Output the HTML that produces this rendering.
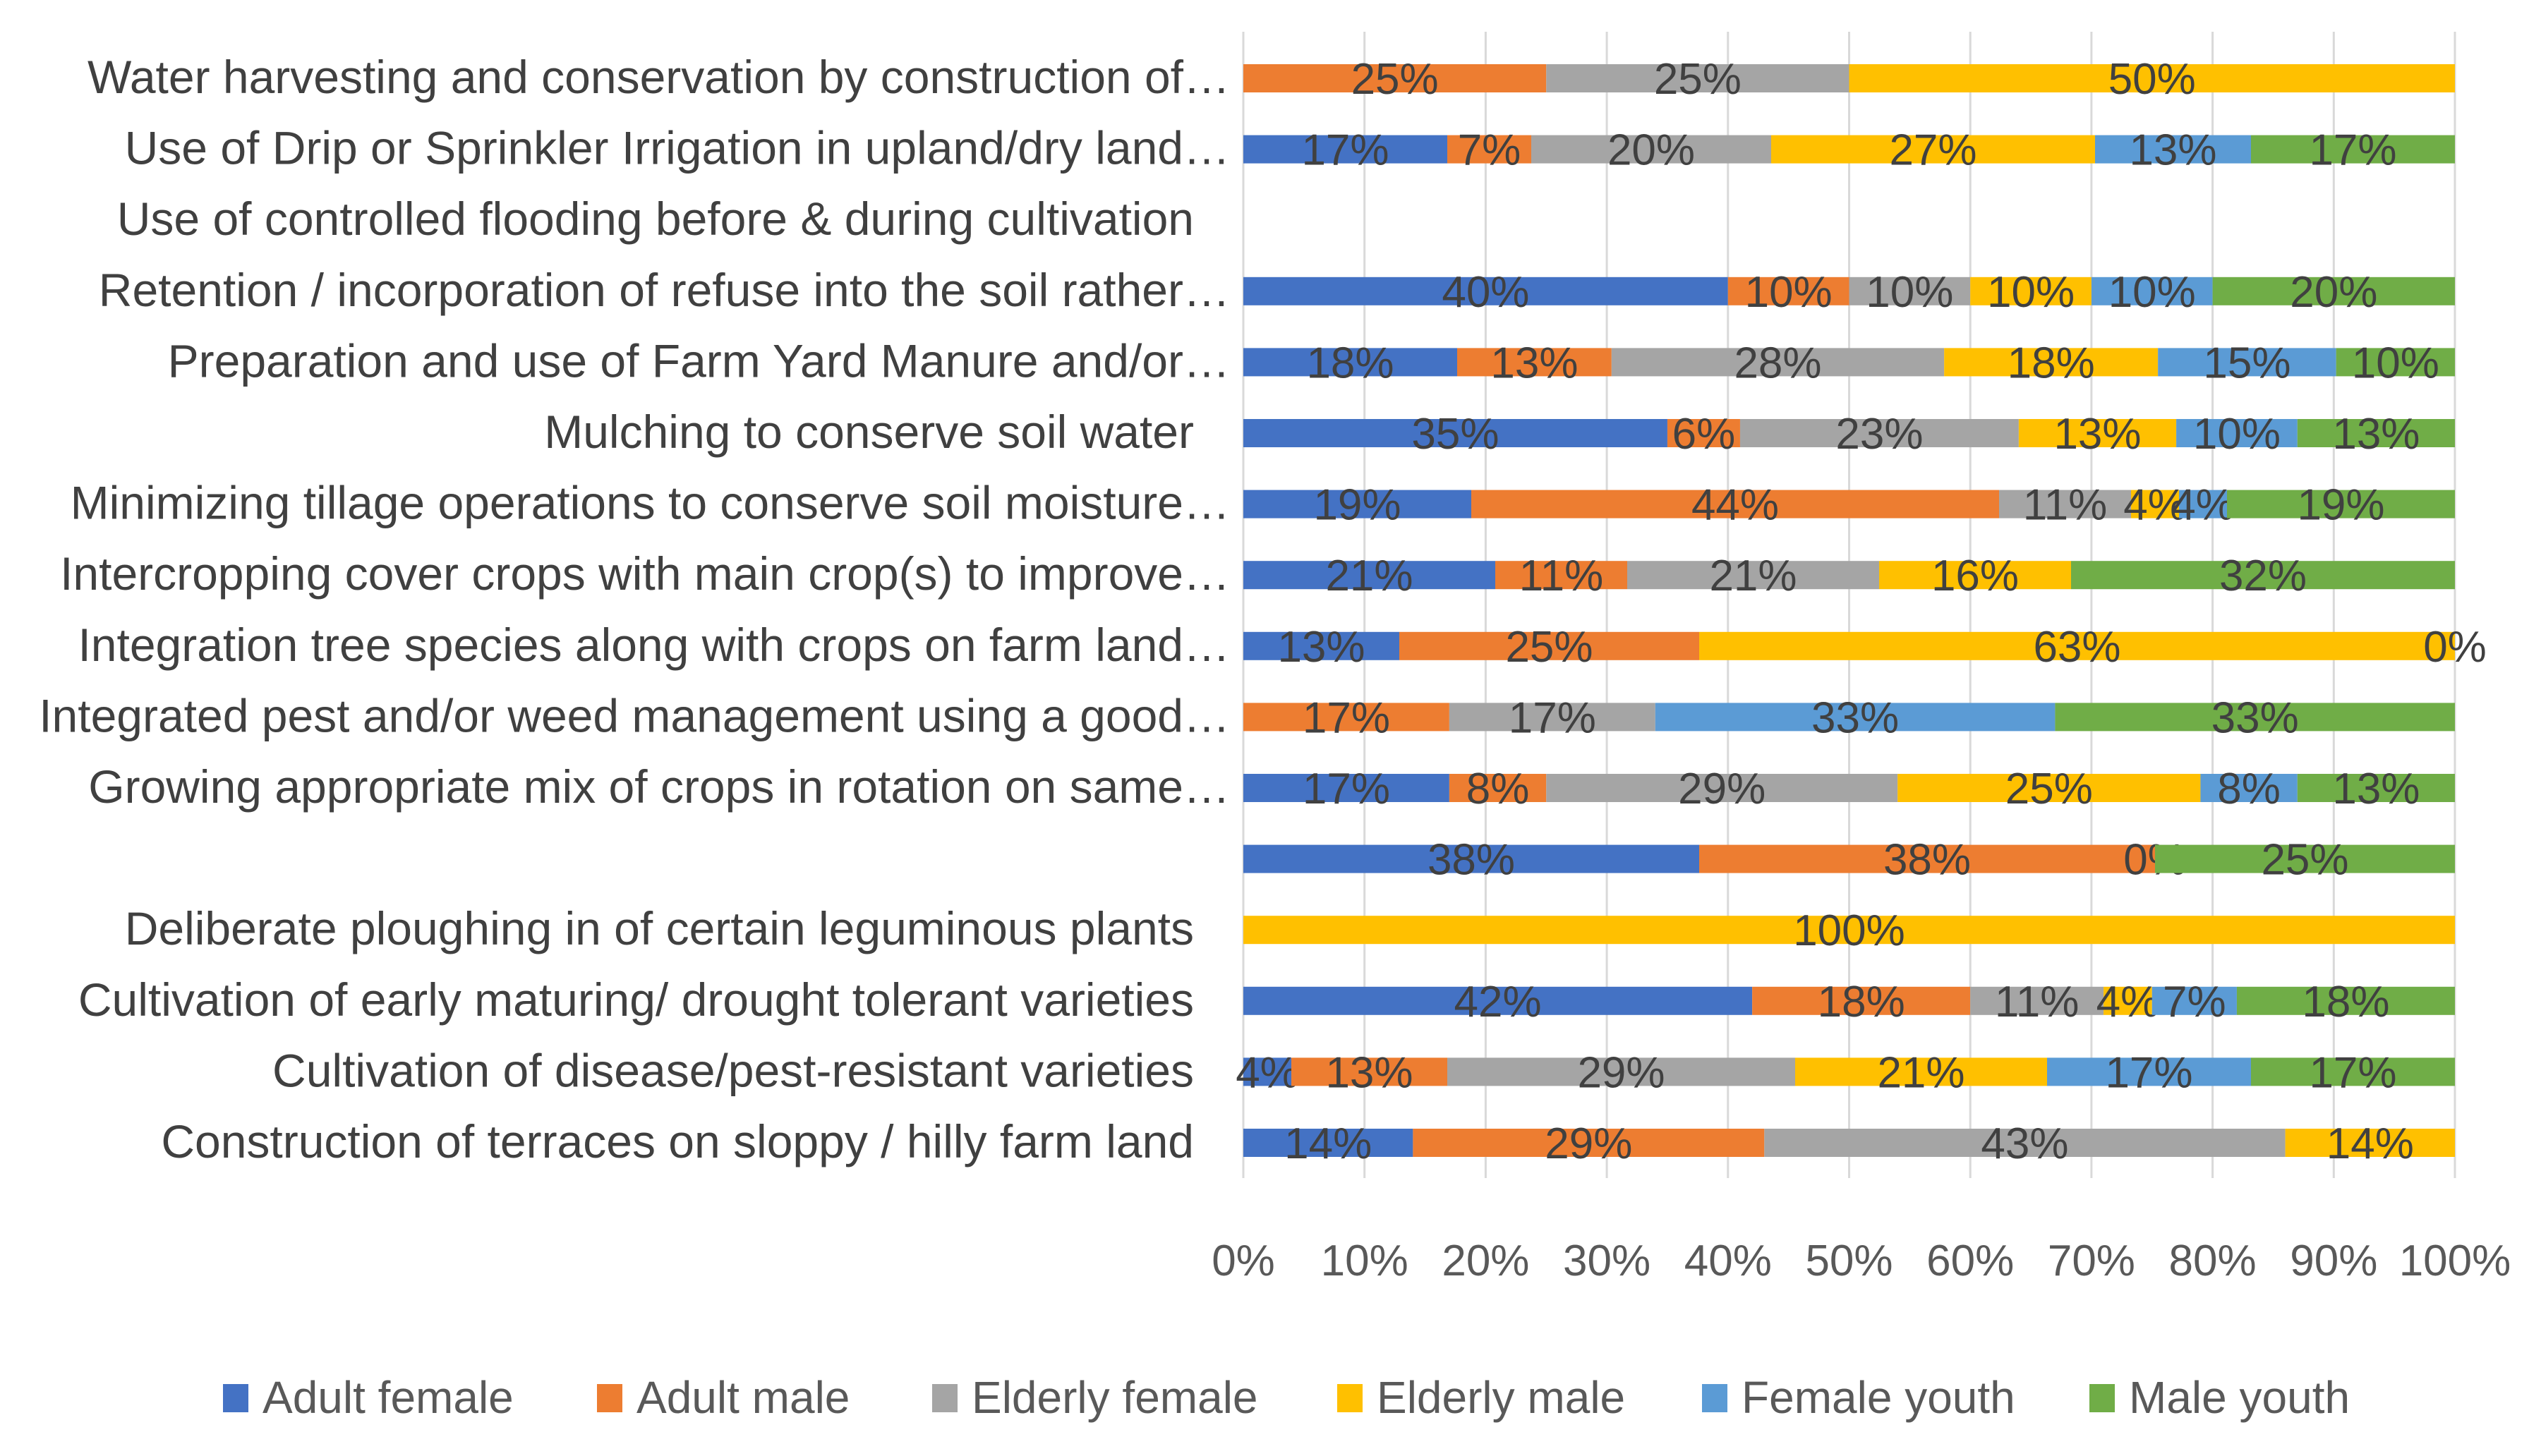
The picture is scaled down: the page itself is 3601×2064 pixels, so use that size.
<!DOCTYPE html>
<html><head><meta charset="utf-8">
<style>
html,body{margin:0;padding:0;background:#fff;}
svg{display:block;font-family:"Liberation Sans",sans-serif;}
</style></head>
<body>
<svg id="chart" width="3601" height="2064" viewBox="0 0 3601 2064" xmlns="http://www.w3.org/2000/svg">
<rect width="3601" height="2064" fill="#fff"/>
<g id="grid"></g>
<g id="bars"></g>
<g id="cats"></g>
<g id="ticks"></g>
<g id="legend"></g>
</svg>
<script>
const categories = [
"Water harvesting and conservation by construction of…",
"Use of Drip or Sprinkler Irrigation in upland/dry land…",
"Use of controlled flooding before & during cultivation",
"Retention / incorporation of refuse into the soil rather…",
"Preparation and use of Farm Yard Manure and/or…",
"Mulching to conserve soil water",
"Minimizing tillage operations to conserve soil moisture…",
"Intercropping cover crops with main crop(s) to improve…",
"Integration tree species along with crops on farm land…",
"Integrated pest and/or weed management using a good…",
"Growing appropriate mix of crops in rotation on same…",
"",
"Deliberate ploughing in of certain leguminous plants",
"Cultivation of early maturing/ drought tolerant varieties",
"Cultivation of disease/pest-resistant varieties",
"Construction of terraces on sloppy / hilly farm land"
];
const seriesNames = ["Adult female","Adult male","Elderly female","Elderly male","Female youth","Male youth"];
const seriesColors = ["#4472C4","#ED7D31","#A5A5A5","#FFC000","#5B9BD5","#70AD47"];
const adultFemale   = [null,17,null,40,18,35,19,21,13,null,17,38,null,42,4,14];
const adultMale     = [25,7,null,10,13,6,44,11,25,17,8,38,null,18,13,29];
const elderlyFemale = [25,20,null,10,28,23,11,21,null,17,29,0,null,11,29,43];
const elderlyMale   = [50,27,null,10,18,13,4,16,63,null,25,null,100,4,21,14];
const femaleYouth   = [null,13,null,10,15,10,4,null,null,33,8,null,null,7,17,null];
const maleYouth     = [null,17,null,20,10,13,19,32,0,33,13,25,null,18,17,null];
const tickLabels = ["0%","10%","20%","30%","40%","50%","60%","70%","80%","90%","100%"];

const NS="http://www.w3.org/2000/svg";
const X0=1762, X1=3479, TOP=45, BOT=1670, ROW0=111, ROWSTEP=100.6, BARH=40;
const xs = v => X0 + (X1-X0)*v/100;
const ys = i => ROW0 + i*ROWSTEP;
function mk(tag, attrs, parent){const e=document.createElementNS(NS,tag);for(const k in attrs)e.setAttribute(k,attrs[k]);parent.appendChild(e);return e;}

const grid=document.getElementById('grid');
tickLabels.forEach((t,i)=>{
  const x=xs(i*10);
  const l=mk('line',{x1:x,x2:x,y1:TOP,y2:BOT,stroke:'#d9d9d9','stroke-width':3},grid);
  
  
  const tx=mk('text',{x:x,y:1808,'font-size':62,fill:'#595959','text-anchor':'middle'},document.getElementById('ticks'));
  tx.textContent=t;
  
  
});

const series=[adultFemale,adultMale,elderlyFemale,elderlyMale,femaleYouth,maleYouth];
const bars=document.getElementById('bars');
categories.forEach((c,i)=>{
  const vals=series.map(s=>s[i]);
  const sum=vals.reduce((a,v)=>a+(v||0),0);
  let acc=0;
  const yc=ys(i);
  vals.forEach((v,k)=>{
    if(v===null) return;
    const a=sum?acc/sum*100:0, b=sum?(acc+v)/sum*100:0;
    acc+=v;
    if(v>0){
      const r=mk('rect',{x:xs(a),y:yc-BARH/2,width:xs(b)-xs(a),height:BARH,fill:seriesColors[k]},bars);
      
      
    }
    const cx=(xs(a)+xs(b))/2;
    const t=mk('text',{x:cx,y:yc+22,'font-size':62,fill:'#404040','text-anchor':'middle'},bars);
    t.textContent=v+'%';
    
    
  });
  if(c){
    const trunc=c.endsWith('…');
    const xr=trunc?1743:1692;
    const t=mk('text',{x:xr,y:yc+21,'font-size':66,fill:'#404040','text-anchor':'end'},document.getElementById('cats'));
    t.textContent=c;
    
    
  }
});

const legX=[316,846,1321,1895,2412,2961];
const leg=document.getElementById('legend');
seriesNames.forEach((n,k)=>{
  const g=mk('g',{},leg);
  
  
  mk('rect',{x:legX[k],y:1962,width:36,height:40,fill:seriesColors[k]},g);
  const t=mk('text',{x:legX[k]+56,y:2003,'font-size':64,fill:'#595959'},g);
  t.textContent=n;
});
</script>
</body></html>
